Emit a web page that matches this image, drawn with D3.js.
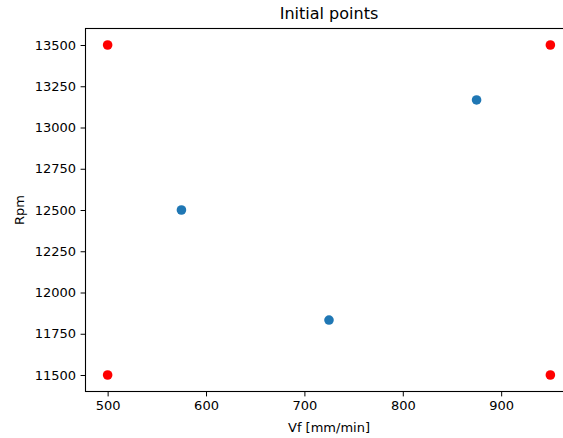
<!DOCTYPE html>
<html><head><meta charset="utf-8">
<script src="https://cdn.jsdelivr.net/npm/d3@7"></script>
<style>body{margin:0;background:#fff}svg{display:block}text{font-family:"DejaVu Sans",sans-serif;fill:#000}</style>
</head><body><svg id="c" width="563" height="438"></svg>
<script>
const title = "Initial points";
const xLabel = "Vf [mm/min]";
const yLabel = "Rpm";
const initialVf = [575, 725, 875];
const initialRpm = [12500, 11833, 13167];
const cornerVf = [500, 500, 950, 950];
const cornerRpm = [11500, 13500, 11500, 13500];
const xTicks = [500, 600, 700, 800, 900];
const yTicks = [11500, 11750, 12000, 12250, 12500, 12750, 13000, 13250, 13500];
const xDomain = [477.5, 972.5];
const yDomain = [11400, 13600];

const svg = d3.select("#c");
const L = 85.5, R = 572.5, T = 28.5, B = 391.5;
const x = d3.scaleLinear().domain(xDomain).range([L, R]);
const y = d3.scaleLinear().domain(yDomain).range([B, T]);

const xa = svg.append("g").attr("transform", `translate(0,${B})`)
  .call(d3.axisBottom(x).tickValues(xTicks).tickSize(4.9).tickPadding(4.5).tickFormat(d3.format("d")));
const ya = svg.append("g").attr("transform", `translate(${L},0)`)
  .call(d3.axisLeft(y).tickValues(yTicks).tickSize(4.9).tickPadding(4.5).tickFormat(d3.format("d")));
[xa, ya].forEach(a => {
  a.select(".domain").remove();
  a.selectAll("line").attr("stroke", "#000").attr("stroke-width", 1);
  a.selectAll("text").attr("font-size", 13).attr("fill", "#222").attr("font-family", "DejaVu Sans");
});
svg.append("rect").attr("x", L).attr("y", T).attr("width", R - L).attr("height", B - T)
  .attr("fill", "none").attr("stroke", "#000").attr("stroke-width", 1.1);

svg.selectAll("circle.init").data(initialVf).join("circle").attr("class", "init")
  .attr("cx", d => x(d)).attr("cy", (d, i) => y(initialRpm[i])).attr("r", 4.8).attr("fill", "#1f77b4");
svg.selectAll("circle.corner").data(cornerVf).join("circle").attr("class", "corner")
  .attr("cx", d => x(d)).attr("cy", (d, i) => y(cornerRpm[i])).attr("r", 4.8).attr("fill", "#ff0000");

svg.append("text").attr("x", (L + R) / 2).attr("y", 19).attr("text-anchor", "middle").attr("font-size", 16).attr("fill", "#222").text(title);
svg.append("text").attr("x", (L + R) / 2).attr("y", 432).attr("text-anchor", "middle").attr("font-size", 13).attr("fill", "#222").text(xLabel);
svg.append("text").attr("transform", `translate(24,${(T + B) / 2}) rotate(-90)`).attr("text-anchor", "middle").attr("font-size", 13).attr("fill", "#222").text(yLabel);
</script></body></html>
